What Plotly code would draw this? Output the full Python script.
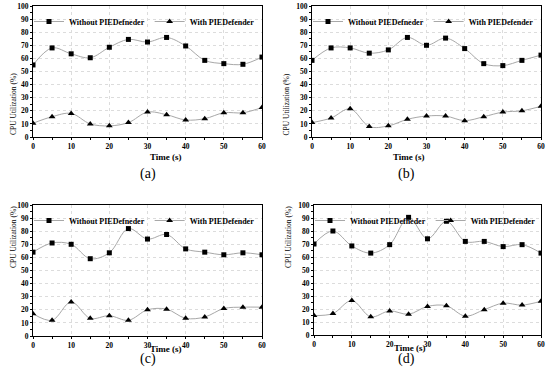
import plotly.graph_objects as go

time_s = [0, 5, 10, 15, 20, 25, 30, 35, 40, 45, 50, 55, 60]

without_a = [55, 68, 63.5, 60.5, 68.5, 74.5, 72.5, 76, 69.5, 58.5, 56, 55.5, 61]
with_a = [10.5, 15.5, 18, 10, 8.5, 11, 19, 17, 13, 14, 18.5, 18.5, 22.5]

without_b = [58.5, 68, 68, 64, 66.5, 76, 70, 75.5, 67.5, 56, 54.5, 58.5, 62.5]
with_b = [11, 14.5, 21.5, 8, 8.5, 13.5, 16, 16, 12.5, 15.5, 19, 20, 23.5]

without_c = [64, 71, 70, 59, 63.5, 82, 74, 77.5, 66.5, 64, 62, 63.5, 62]
with_c = [17, 12, 26, 13.5, 15.5, 12, 20, 20.5, 13.5, 14.5, 21, 22, 22]

without_d = [70, 80, 68.5, 63, 69.5, 90.5, 74, 87.5, 72, 72, 68, 69.5, 63]
with_d = [15, 16.5, 26.5, 14, 18.5, 16, 22, 22.5, 14.5, 19.5, 24.5, 23, 26]

panel_labels = ["(a)", "(b)", "(c)", "(d)"]
series_names = ["Without PIEDefneder", "With PIEDefender"]

W, H = 550, 382
# pixel boxes in window coords: (left, right, top, bottom)
boxes = [(33, 262, 6, 137), (312, 541, 6, 137), (33, 262, 205, 336), (314, 541, 205, 335)]
label_y = [174, 174, 369, 369]

data = [(without_a, with_a), (without_b, with_b), (without_c, with_c), (without_d, with_d)]

SERIF = "Liberation Serif"


def px(xw):
    return xw / W


def py(yw):
    return 1 - yw / H


fig = go.Figure()
layout = dict(width=W, height=H, margin=dict(l=0, r=0, t=0, b=0, autoexpand=False),
              plot_bgcolor="white", paper_bgcolor="white", showlegend=True,
              annotations=[])

for i, (wo, wi) in enumerate(data):
    n = i + 1
    xa = "x" if n == 1 else f"x{n}"
    ya = "y" if n == 1 else f"y{n}"
    lg = "legend" if n == 1 else f"legend{n}"
    l, r, t, b = boxes[i]
    xd = [px(l), px(r)]
    yd = [py(b), py(t)]
    for vals, sym, size, name in [(wo, "square", 5, series_names[0]), (wi, "triangle-up", 6, series_names[1])]:
        fig.add_trace(go.Scatter(x=time_s, y=vals, mode="lines+markers", name=name,
                                 line=dict(color="#a8a8a8", width=1, shape="spline", smoothing=1.0),
                                 marker=dict(symbol=sym, size=size, color="black"),
                                 xaxis=xa, yaxis=ya, legend=lg))
    axcommon = dict(showline=True, linecolor="black", linewidth=1, mirror=True,
                    ticks="outside", ticklen=2, tickcolor="black", automargin=False,
                    showgrid=True, gridcolor="#dcdcdc", griddash="dot", gridwidth=1,
                    zeroline=False,
                    tickfont=dict(family=SERIF, size=7.5, color="black", weight="bold"))
    layout["xaxis" if n == 1 else f"xaxis{n}"] = dict(
        axcommon, domain=xd, range=[0, 60], dtick=10, tick0=0,
        anchor=ya, minor=dict(dtick=5, ticks="outside", ticklen=2, tickcolor="black", showgrid=False))
    layout["yaxis" if n == 1 else f"yaxis{n}"] = dict(
        axcommon, domain=yd, range=[0, 100], dtick=10, tick0=0,
        anchor=xa, minor=dict(dtick=5, ticks="outside", ticklen=2, tickcolor="black", showgrid=False))
    layout[lg] = dict(orientation="h", x=px(l - 4), y=py(t + 1), xanchor="left", yanchor="top",
                      bgcolor="rgba(0,0,0,0)", font=dict(family=SERIF, size=8, color="black", weight="bold"),
                      itemwidth=30, tracegroupgap=0)
    layout["annotations"].append(dict(text="Time (s)", x=px((l + r) / 2), y=py(b + 20), xref="paper", yref="paper",
                                      showarrow=False, font=dict(family=SERIF, size=9, color="black", weight="bold")))
    layout["annotations"].append(dict(text="CPU Utilization (%)", x=px(l - 26), y=py((t + b) / 2),
                                      xref="paper", yref="paper", textangle=-90, showarrow=False,
                                      font=dict(family=SERIF, size=7.5, color="black")))
    layout["annotations"].append(dict(text=panel_labels[i], x=px((l + r) / 2 - 10), y=py(label_y[i]),
                                      xref="paper", yref="paper", showarrow=False,
                                      font=dict(family=SERIF, size=14, color="black")))

fig.update_layout(**layout)
fig.write_html("out.html", config={"displayModeBar": False},
               post_script="document.body.style.margin='0px';document.body.style.padding='0px';"
                           "document.body.style.overflow='hidden';")
